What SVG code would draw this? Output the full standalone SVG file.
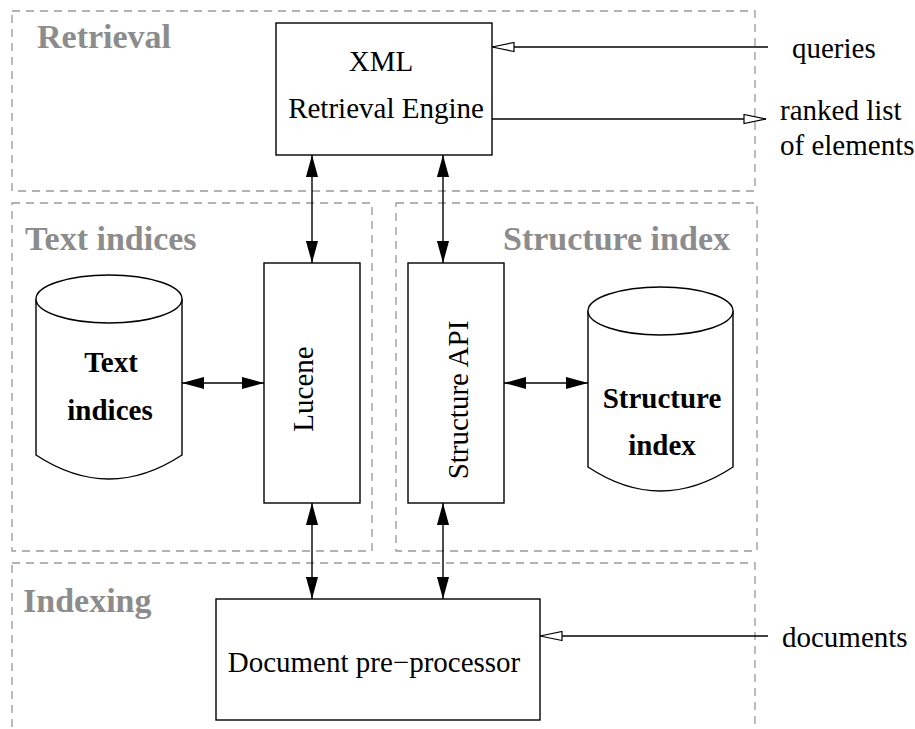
<svg xmlns="http://www.w3.org/2000/svg" width="915" height="729" viewBox="0 0 915 729">
<style>
.region{fill:none;stroke:#999;stroke-width:1.3;stroke-dasharray:8 6}
.head{font-family:"Liberation Serif",serif;font-weight:bold;font-size:34px;fill:#8c8c8c}
.box{fill:#fff;stroke:#000;stroke-width:1.4}
.lbl{font-family:"Liberation Serif",serif;font-size:29px;fill:#000}
.blbl{font-family:"Liberation Serif",serif;font-size:29px;font-weight:bold;fill:#000}
.conn line{stroke:#000;stroke-width:1.4}
.bi{marker-start:url(#fa);marker-end:url(#fa)}
.op{marker-end:url(#oa)}
</style>
<defs>
<marker id="fa" markerUnits="userSpaceOnUse" markerWidth="22" markerHeight="13" viewBox="0 0 20 11" refX="20" refY="5.5" orient="auto-start-reverse">
<path d="M0,0 L20,5.5 L0,11 z" fill="#000"/>
</marker>
<marker id="oa" markerUnits="userSpaceOnUse" markerWidth="24" markerHeight="11" viewBox="-1 -1 24 11" refX="22" refY="4.5" orient="auto">
<path d="M0,0 L22,4.5 L0,9 z" fill="#fff" stroke="#000" stroke-width="1.2"/>
</marker>
</defs>
<rect width="915" height="729" fill="#fff"/>
<g id="regions">
<rect class="region" x="12" y="11" width="743" height="180"/>
<rect class="region" x="12" y="203" width="360" height="348"/>
<rect class="region" x="396" y="203" width="361" height="348"/>
<rect class="region" x="12" y="563" width="743" height="200"/>
<text class="head" x="37" y="48">Retrieval</text>
<text class="head" x="25" y="250">Text indices</text>
<text class="head" x="503" y="250">Structure index</text>
<text class="head" x="23" y="612">Indexing</text>
</g>
<g id="xml-engine">
<rect class="box" x="276" y="23" width="216" height="132"/>
<text class="lbl" x="381" y="71" text-anchor="middle">XML</text>
<text class="lbl" x="386" y="118" text-anchor="middle">Retrieval Engine</text>
</g>
<g id="lucene">
<rect class="box" x="264" y="263" width="96" height="240"/>
<text class="lbl" transform="translate(313,389) rotate(-90)" text-anchor="middle">Lucene</text>
</g>
<g id="structure-api">
<rect class="box" x="408" y="263" width="96" height="240"/>
<text class="lbl" transform="translate(468,400) rotate(-90)" text-anchor="middle">Structure API</text>
</g>
<g id="text-indices">
<path d="M36,299 L36,455 Q109,503 182,455 L182,299" fill="#fff" stroke="#000" stroke-width="1.4"/>
<ellipse cx="109" cy="299" rx="73" ry="24" fill="#fff" stroke="#000" stroke-width="1.4"/>
<text class="blbl" x="111" y="372" text-anchor="middle">Text</text>
<text class="blbl" x="110" y="420" text-anchor="middle">indices</text>
</g>
<g id="structure-index">
<path d="M588,311 L588,467 Q660.5,515 733,467 L733,311" fill="#fff" stroke="#000" stroke-width="1.4"/>
<ellipse cx="660.5" cy="311" rx="72.5" ry="24" fill="#fff" stroke="#000" stroke-width="1.4"/>
<text class="blbl" x="662" y="408" text-anchor="middle">Structure</text>
<text class="blbl" x="662" y="455" text-anchor="middle">index</text>
</g>
<g id="doc-preprocessor">
<rect class="box" x="216" y="599" width="324" height="121"/>
<text class="lbl" x="374" y="672" text-anchor="middle">Document pre−processor</text>
</g>
<g id="external-labels">
<text class="lbl" x="792" y="58">queries</text>
<text class="lbl" x="780" y="120">ranked list</text>
<text class="lbl" x="780" y="155">of elements</text>
<text class="lbl" x="782" y="647">documents</text>
</g>
<g id="connectors" class="conn">
<line class="op" x1="768" y1="47" x2="492" y2="47"/>
<line class="op" x1="492" y1="119" x2="766" y2="119"/>
<line class="op" x1="768" y1="636" x2="540" y2="636"/>
<line class="bi" x1="312" y1="155" x2="312" y2="263"/>
<line class="bi" x1="443" y1="155" x2="443" y2="263"/>
<line class="bi" x1="182" y1="383" x2="264" y2="383"/>
<line class="bi" x1="504" y1="383" x2="588" y2="383"/>
<line class="bi" x1="312" y1="503" x2="312" y2="599"/>
<line class="bi" x1="443" y1="503" x2="443" y2="599"/>
</g>
</svg>
